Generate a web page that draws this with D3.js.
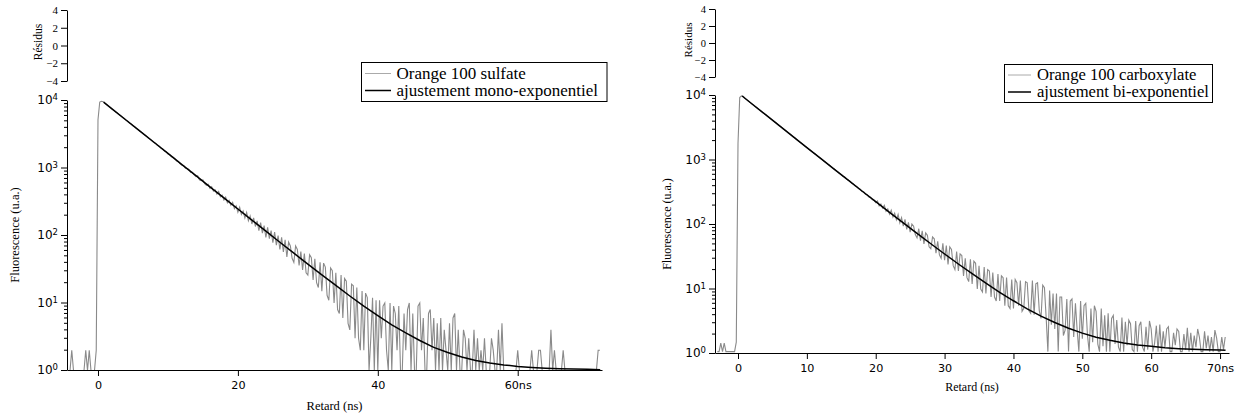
<!DOCTYPE html>
<html>
<head>
<meta charset="utf-8">
<script src="https://cdn.jsdelivr.net/npm/d3@7"></script>
<style>
  body { margin: 0; background: #fff; }
  svg { display: block; }
</style>
</head>
<body>
<svg id="chart" width="1238" height="419"></svg>
<script>
// ---- data (counts per 0.25 ns channel) ----
var channelWidth = 0.25;

// Orange 100 sulfate, channels start at -4 ns
var sulfateStart = -4.0;
var sulfateCounts = [
  1, 2, 0, 1,   0, 1, 0, 1,   0, 2, 0, 2,   1, 0, 1, 2,
  5200, 9500, 9750, 9600,   9120, 8700, 8240, 7910,
  7490, 7200, 6810, 6550,   6190, 5960, 5630, 5410,
  5120, 4930, 4650, 4480,   4230, 4080, 3850, 3700,
  3490, 3370, 3180, 3060,   2920, 2750, 2660, 2510,
  2380, 2310, 2160, 2100,   1960, 1920, 1780, 1740,
  1610, 1590, 1470, 1440,   1380, 1270, 1250, 1150,
  1100, 1090, 990, 985,     950, 860, 860, 790,
  745, 770, 670, 650,       665, 585, 555, 575,
  500, 530, 455, 475,       410, 450, 375, 395,
  335, 370, 305, 330,       280, 310, 250, 275,
  222, 262, 205, 230,       182, 220, 165, 195,
  148, 182, 136, 165,       118, 155, 108, 140,
  94, 132, 90, 118,         78, 112, 72, 100,
  62, 94, 57, 86,           48, 80, 70, 46,
  40, 70, 62, 36,           58, 31, 54, 28,
  26, 52, 47, 22,           45, 20, 17, 40,
  15, 39, 34, 13,           11, 33, 30, 10,
  28, 8, 7, 26,             6, 23, 21, 5,
  4, 19, 18, 3,             17, 3, 2, 15,
  2, 14, 12, 1,             3, 12, 0, 11,
  1, 11, 3, 9,              10, 2, 0, 10,
  1, 9, 7, 2,               9, 0, 1, 7,
  2, 8, 10, 1,              7, 1, 0, 9,
  10, 2, 6, 1,              0, 7, 8, 2,
  6, 1, 5, 1,               6, 0, 4, 2,
  1, 5, 0, 6,               7, 1, 4, 1,
  0, 4, 3, 1,               3, 1, 0, 4,
  1, 3, 1, 2,               0, 3, 1, 1,
  1, 3, 2, 1,               1, 4, 1, 5,
  1, 1, 0, 1,               1, 1, 1, 1,
  2, 1, 1, 1,               1, 1, 1, 1,
  2, 1, 1, 1,               2, 2, 1, 1,
  1, 1, 1, 4,               1, 2, 1, 1,
  1, 1, 2, 1,               1, 1, 1, 1,
  1, 1, 1, 1,               1, 1, 1, 1,
  1, 1, 1, 1,               1, 1, 2, 2
];
var sulfateFitTime = [0.8, 2, 4, 6, 8, 10, 12, 14, 16, 18, 20, 22, 24, 26, 28, 30, 32, 34, 36, 38,
  40, 42, 44, 46, 48, 50, 52, 54, 56, 58, 60, 62, 64, 66, 68, 70, 71.8];
var sulfateFit = [9450, 7527, 5145, 3518, 2405, 1645, 1125, 770, 526, 360, 247, 169, 116, 79.5, 54.7,
  37.7, 26.1, 18.2, 12.7, 9.0, 6.5, 4.75, 3.6, 2.78, 2.2, 1.85, 1.59, 1.41, 1.29, 1.21, 1.15, 1.11,
  1.08, 1.06, 1.05, 1.04, 1.03];

// Orange 100 carboxylate, channels start at -3 ns
var carbStart = -3.0;
var carbCounts = [
  1.07, 1.07, 1.45, 1.07,   1.45, 1.07, 1.07, 1.07,   1.07, 1.07, 1.07, 1.5,
  1800, 9300, 9850, 9700,   9070, 8630, 8220, 7820,
  7440, 7120, 6740, 6450,   6130, 5870, 5560, 5310,
  5050, 4790, 4580, 4340,   4160, 3950, 3780, 3580,
  3400, 3260, 3080, 2950,   2810, 2660, 2550, 2420,
  2290, 2210, 2080, 1990,   1890, 1810, 1720, 1640,
  1570, 1480, 1420, 1340,   1280, 1230, 1160, 1110,
  1050, 1010, 955, 915,     870, 835, 790, 755,
  725, 680, 655, 615,       595, 560, 545, 510,
  490, 470, 440, 425,       400, 390, 362, 352,
  325, 322, 295, 290,       268, 265, 242, 240,
  218, 232, 194, 208,       180, 198, 161, 175,
  144, 166, 130, 150,       118, 143, 106, 128,
  94, 120, 84, 108,         76, 102, 94, 70,
  62, 86, 56, 80,           50, 74, 68, 45,
  42, 64, 60, 36,           55, 34, 30, 51,
  28, 47, 24, 45,           41, 23, 20, 38,
  19, 35, 33, 16,           30, 15, 13, 29,
  12, 27, 25, 10,           23, 10, 9, 22,
  8.5, 20, 19, 7.5,         18, 7.5, 6.5, 17,
  6.5, 16, 15, 5.5,         15, 5.5, 5, 14,
  5, 14, 12.5, 5.5,         13.5, 4.5, 5, 13,
  12.5, 4.6, 4.2, 13.5,     4, 12, 12.5, 4.6,
  3.5, 11.5, 10.5, 3.6,     1.07, 9.5, 2.8, 8.5,
  2.4, 8.5, 1.07, 7.5,      7.5, 1.9, 2.3, 7,
  1.07, 6.5, 7, 1.8,        6, 2.3, 1.07, 6.5,
  1.7, 5.5, 6, 1.9,         1.07, 5, 1.5, 5.5,
  4.5, 1.4, 1.07, 5,        1.3, 3.9, 1.07, 4.2,
  1.07, 3.5, 3.9, 1.4,      3.3, 1.25, 1.07, 3.6,
  1.07, 3.1, 1.35, 3.3,     2.9, 1.15, 1.07, 3.2,
  1.07, 2.7, 3.1, 1.25,     1.07, 2.6, 1.15, 3.2,
  2.4, 1.07, 1.45, 2.7,     1.07, 2.8, 1.07, 2.2,
  1.25, 2.4, 2.6, 1.07,     1.07, 2.1, 1.35, 2.4,
  2.2, 1.07, 1.07, 2.0,     1.15, 2.5, 1.07, 2.1,
  1.07, 1.9, 1.25, 2.4,     1.8, 1.07, 1.07, 2.2,
  1.2, 1.9, 1.07, 1.8,      1.07, 2.3, 1.75, 1.07,
  1.07, 1.8, 1.15, 1.8
];
var carbFitTime = [0.6, 2, 4, 6, 8, 10, 12, 14, 16, 18, 20, 22, 24, 26, 28, 30, 32, 34, 36, 38,
  40, 42, 44, 46, 48, 50, 52, 54, 56, 58, 60, 62, 64, 66, 68, 70, 70.8];
var carbFit = [9815, 7457, 5037, 3405, 2304, 1559, 1057, 717, 487, 331, 226, 154, 106, 72.8, 50.3,
  34.9, 24.4, 17.3, 12.3, 8.9, 6.57, 4.93, 3.80, 3.02, 2.46, 2.07, 1.79, 1.60, 1.46, 1.35, 1.29,
  1.23, 1.19, 1.16, 1.14, 1.13, 1.12];

// ---- axis ticks and labels ----
var sulfateTicks = [0, 20, 40, 60];
var carbTicks = [0, 10, 20, 30, 40, 50, 60, 70];
var decadeTicks = [1, 10, 100, 1000, 10000];
var residTicks = [4, 2, 0, -2, -4];
var sulfateLegend = ["Orange 100 sulfate", "ajustement mono-exponentiel"];
var carbLegend = ["Orange 100 carboxylate", "ajustement bi-exponentiel"];

var serif = '"Liberation Serif", "Times New Roman", serif';
var sans = '"DejaVu Sans", Verdana, sans-serif';
var dataGray = "#8a8a8a";

var svg = d3.select("#chart");

// layout of each panel (pixels)
var panels = [
  { id: "p1", counts: sulfateCounts, start: sulfateStart, fitT: sulfateFitTime, fitV: sulfateFit,
    xTicks: sulfateTicks, legend: sulfateLegend, xDomain: [-4.43, 72.05],
    left: 67, right: 602, top: 100, bottom: 370, rTop: 10, rBottom: 81,
    box: [361.5, 62.5, 245.5, 39], rows: [73.5, 90.5], sample: [365, 391], textX: 396.5, legendSize: 17,
    fluoX: 15, fluoY: 235, residX: 38, residY: 42, retardY: 410,
    titleSize: 12.5, residSize: 11.5, residTickSize: 11 },
  { id: "p2", counts: carbCounts, start: carbStart, fitT: carbFitTime, fitV: carbFit,
    xTicks: carbTicks, legend: carbLegend, xDomain: [-3.34, 71.3],
    left: 715, right: 1229, top: 95, bottom: 353, rTop: 9, rBottom: 77,
    box: [1004.5, 64.5, 208, 38], rows: [75, 92], sample: [1008, 1031], textX: 1037, legendSize: 16.6,
    fluoX: 667, fluoY: 224, residX: 688, residY: 40, retardY: 391,
    titleSize: 12, residSize: 11, residTickSize: 10.5 }
];

panels.forEach(function(p) {
  var x = d3.scaleLinear().domain(p.xDomain).range([p.left, p.right]);
  var y = d3.scaleLog().domain([1, 10000]).range([p.bottom, p.top]).clamp(true);
  var r = d3.scaleLinear().domain([-4, 4]).range([p.rBottom, p.rTop]);

  var points = p.counts.map(function(v, i) { return { t: p.start + i * channelWidth, v: v }; });
  var fit = p.fitT.map(function(t, i) { return { t: t, v: p.fitV[i] }; });

  svg.append("clipPath").attr("id", "clip-" + p.id)
    .append("rect")
    .attr("x", p.left).attr("y", p.top - 2)
    .attr("width", p.right - p.left).attr("height", p.bottom - p.top + 3);

  var plot = svg.append("g").attr("clip-path", "url(#clip-" + p.id + ")");

  // measured decay
  plot.append("path")
    .datum(points)
    .attr("fill", "none")
    .attr("stroke", dataGray)
    .attr("stroke-width", 1.1)
    .attr("d", d3.line()
      .x(function(d) { return x(d.t); })
      .y(function(d) { return y(Math.max(d.v, 1)) + 0.5; }));

  // fit
  plot.append("path")
    .datum(fit)
    .attr("fill", "none")
    .attr("stroke", "#000")
    .attr("stroke-width", 1.5)
    .attr("d", d3.line()
      .x(function(d) { return x(d.t); })
      .y(function(d) { return y(d.v) + 0.5; }));

  // x axis, unit appended to the last label
  var lastX = p.xTicks[p.xTicks.length - 1];
  var xg = svg.append("g")
    .attr("transform", "translate(0," + p.bottom + ")")
    .attr("color", "#000")
    .call(d3.axisBottom(x).tickValues(p.xTicks).tickSize(6).tickSizeOuter(0).tickPadding(5)
      .tickFormat(function(d) { return d === lastX ? d + "ns" : d; }));
  xg.selectAll("text").attr("font-family", sans).attr("font-size", "11.2px").attr("fill", "#000");

  // log y axis: decades, then minor ticks
  var yg = svg.append("g")
    .attr("transform", "translate(" + p.left + ",0)")
    .attr("color", "#000")
    .call(d3.axisLeft(y).tickValues(decadeTicks).tickSize(6).tickSizeOuter(0).tickPadding(3));
  yg.selectAll(".tick text").each(function(d) {
    var t = d3.select(this).text("10")
      .attr("font-family", sans).attr("font-size", "12px").attr("fill", "#000");
    t.append("tspan").attr("dy", "-0.5em").attr("font-size", "8.5px").text(Math.round(Math.log10(d)));
  });
  var minor = [];
  decadeTicks.slice(0, -1).forEach(function(dec) {
    for (var k = 2; k < 10; k++) minor.push(dec * k);
  });
  var mg = svg.append("g")
    .attr("transform", "translate(" + p.left + ",0)")
    .attr("color", "#000")
    .call(d3.axisLeft(y).tickValues(minor).tickSize(3).tickFormat(""));
  mg.select(".domain").remove();

  // residual axis (empty)
  var rg = svg.append("g")
    .attr("transform", "translate(" + p.left + ",0)")
    .attr("color", "#000")
    .call(d3.axisLeft(r).tickValues(residTicks).tickSize(6).tickSizeOuter(0).tickPadding(3));
  rg.selectAll("text").attr("font-family", serif).attr("font-size", p.residTickSize + "px").attr("fill", "#000");

  // axis titles
  svg.append("text")
    .attr("transform", "translate(" + p.fluoX + "," + p.fluoY + ") rotate(-90)")
    .attr("text-anchor", "middle").attr("dy", "0.35em")
    .attr("font-family", serif).attr("font-size", p.titleSize + "px")
    .text("Fluorescence (u.a.)");
  svg.append("text")
    .attr("transform", "translate(" + p.residX + "," + p.residY + ") rotate(-90)")
    .attr("text-anchor", "middle").attr("dy", "0.35em")
    .attr("font-family", serif).attr("font-size", p.residSize + "px")
    .text("Résidus");
  svg.append("text")
    .attr("x", (p.left + p.right) / 2).attr("y", p.retardY)
    .attr("text-anchor", "middle")
    .attr("font-family", serif).attr("font-size", p.titleSize + "px")
    .text("Retard (ns)");

  // legend
  var lg = svg.append("g");
  lg.append("rect")
    .attr("x", p.box[0]).attr("y", p.box[1]).attr("width", p.box[2]).attr("height", p.box[3])
    .attr("fill", "#fff").attr("stroke", "#000").attr("stroke-width", 1);
  var colors = ["#aaa", "#000"];
  p.legend.forEach(function(label, i) {
    lg.append("line")
      .attr("x1", p.sample[0]).attr("x2", p.sample[1])
      .attr("y1", p.rows[i]).attr("y2", p.rows[i])
      .attr("stroke", colors[i]).attr("stroke-width", i === 0 ? 1 : 1.5);
    lg.append("text")
      .attr("x", p.textX).attr("y", p.rows[i] + 5)
      .attr("font-family", serif).attr("font-size", p.legendSize + "px")
      .text(label);
  });
});
</script>
</body>
</html>
